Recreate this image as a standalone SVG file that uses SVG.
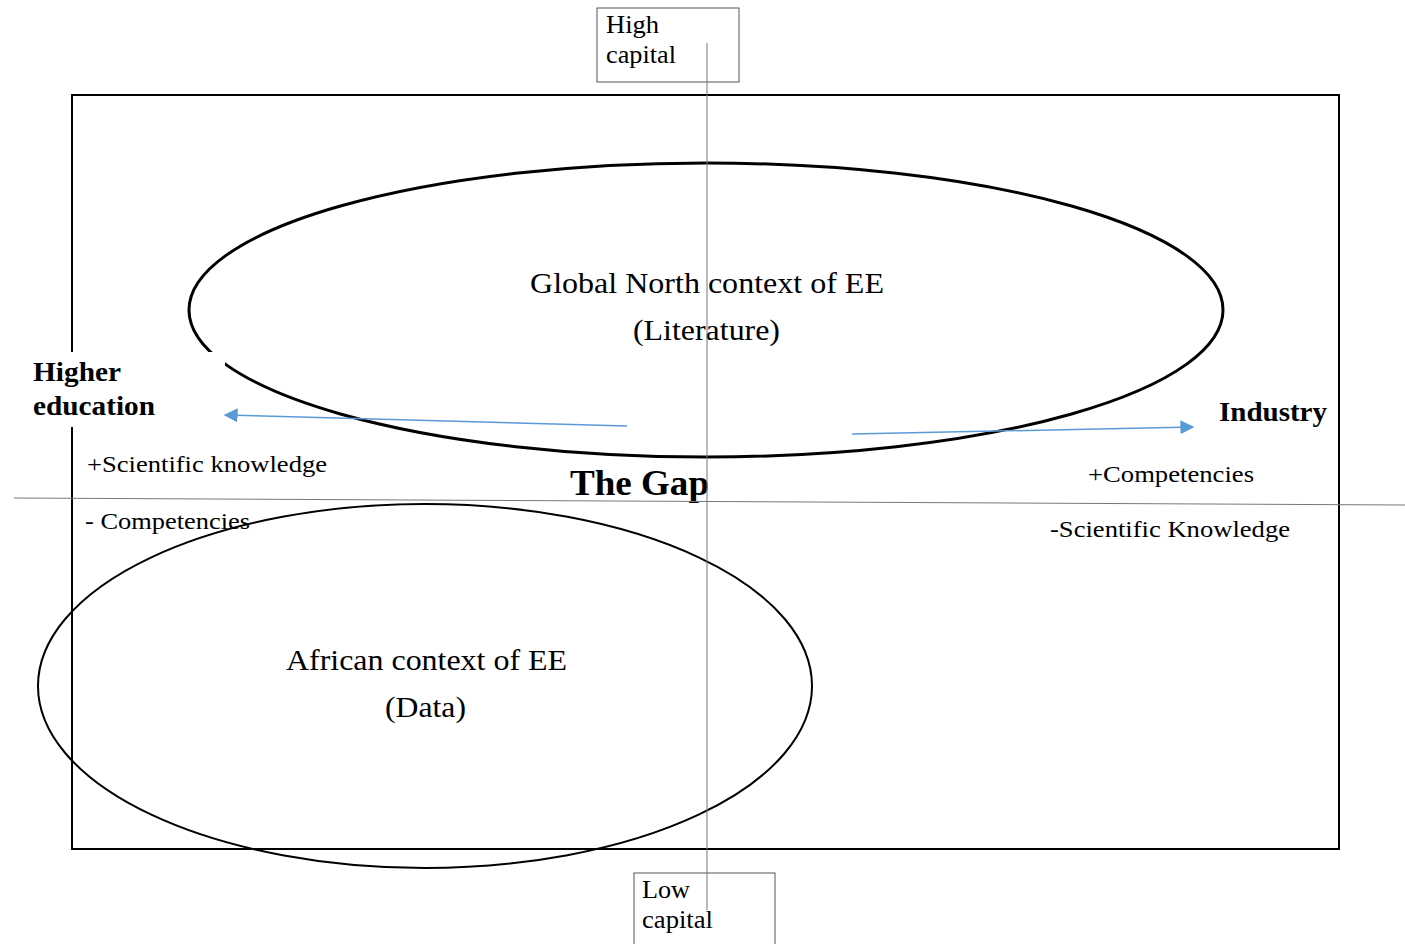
<svg xmlns="http://www.w3.org/2000/svg" width="1405" height="944" viewBox="0 0 1405 944">
<style>
text{font-family:"Liberation Serif","Times New Roman",serif;fill:#000}
.b{font-weight:bold}
.thin{stroke:#777;stroke-width:1;fill:none}
.box{stroke:#555;stroke-width:1;fill:#fff}
.arr{stroke:#5B9BD5;stroke-width:1.5;fill:none;marker-end:url(#ah)}
</style>
<defs>
<marker id="ah" viewBox="0 0 10 10" refX="9" refY="5" markerWidth="14" markerHeight="14" markerUnits="userSpaceOnUse" orient="auto">
<path d="M0,0 L10,5 L0,10 Z" fill="#5B9BD5"/>
</marker>
</defs>
<g id="frame"><rect x="72" y="95" width="1267" height="754" fill="none" stroke="#000" stroke-width="2"/></g>
<g id="global-north">
<ellipse cx="706" cy="310" rx="517" ry="147" fill="none" stroke="#000" stroke-width="3"/>
<text x="530" y="293" font-size="30" textLength="354" lengthAdjust="spacingAndGlyphs">Global North context of EE</text>
<text x="633" y="340" font-size="30" textLength="147" lengthAdjust="spacingAndGlyphs">(Literature)</text>
</g>
<g id="african">
<ellipse cx="425" cy="686" rx="387" ry="182" fill="none" stroke="#000" stroke-width="2"/>
<text x="286" y="670" font-size="30" textLength="281" lengthAdjust="spacingAndGlyphs">African context of EE</text>
<text x="385" y="717" font-size="30" textLength="81" lengthAdjust="spacingAndGlyphs">(Data)</text>
</g>
<g id="higher-education">
<rect x="25" y="352" width="200" height="75" fill="#fff"/>
<text class="b" x="33" y="381" font-size="28" textLength="88" lengthAdjust="spacingAndGlyphs">Higher</text>
<text class="b" x="33" y="415" font-size="28" textLength="122" lengthAdjust="spacingAndGlyphs">education</text>
</g>
<g id="industry"><text class="b" x="1219" y="421" font-size="28" textLength="108" lengthAdjust="spacingAndGlyphs">Industry</text></g>
<g id="labels">
<text x="87" y="472" font-size="24" textLength="240" lengthAdjust="spacingAndGlyphs">+Scientific knowledge</text>
<text x="85" y="529" font-size="24" textLength="165" lengthAdjust="spacingAndGlyphs">- Competencies</text>
<text x="1088" y="482" font-size="24" textLength="166" lengthAdjust="spacingAndGlyphs">+Competencies</text>
<text x="1050" y="537" font-size="24" textLength="240" lengthAdjust="spacingAndGlyphs">-Scientific Knowledge</text>
<text class="b" x="570" y="495" font-size="36" textLength="139" lengthAdjust="spacingAndGlyphs">The Gap</text>
</g>
<g id="high-capital">
<rect class="box" x="597" y="8" width="142" height="74"/>
<text x="606" y="33" font-size="26" textLength="53" lengthAdjust="spacingAndGlyphs">High</text>
<text x="606" y="63" font-size="26" textLength="70" lengthAdjust="spacingAndGlyphs">capital</text>
</g>
<g id="low-capital">
<rect class="box" x="634" y="873" width="141" height="80"/>
<text x="642" y="898" font-size="26" textLength="48" lengthAdjust="spacingAndGlyphs">Low</text>
<text x="642" y="928" font-size="26" textLength="71" lengthAdjust="spacingAndGlyphs">capital</text>
</g>
<g id="connectors">
<line class="thin" x1="707" y1="43" x2="707" y2="910"/>
<line class="thin" x1="14" y1="498" x2="1405" y2="505"/>
<line class="arr" x1="627" y1="426" x2="225" y2="415"/>
<line class="arr" x1="852" y1="434" x2="1193" y2="427"/>
</g>
</svg>
